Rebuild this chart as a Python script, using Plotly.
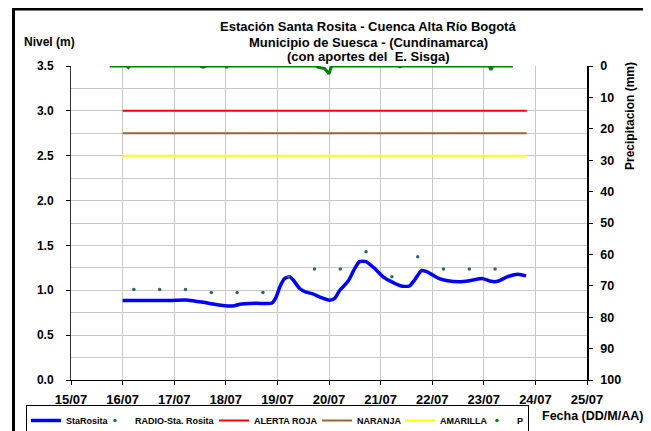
import plotly.graph_objects as go

# ---- data ----
level_time = ["2011-07-16 00:00", "2011-07-16 19:00", "2011-07-17 06:30", "2011-07-17 13:30",
              "2011-07-17 18:00", "2011-07-17 23:30", "2011-07-18 04:00", "2011-07-18 06:30",
              "2011-07-18 14:10", "2011-07-18 21:30", "2011-07-18 23:30", "2011-07-19 01:10",
              "2011-07-19 03:20", "2011-07-19 05:45", "2011-07-19 07:10", "2011-07-19 10:20",
              "2011-07-19 12:45", "2011-07-19 16:30", "2011-07-19 20:25", "2011-07-20 00:15",
              "2011-07-20 02:40", "2011-07-20 05:00", "2011-07-20 08:50", "2011-07-20 12:00",
              "2011-07-20 14:10", "2011-07-20 17:15", "2011-07-20 21:10", "2011-07-21 01:10",
              "2011-07-21 05:00", "2011-07-21 09:35", "2011-07-21 13:25", "2011-07-21 15:50",
              "2011-07-21 19:00", "2011-07-21 21:10", "2011-07-22 00:15", "2011-07-22 03:20",
              "2011-07-22 07:10", "2011-07-22 12:45", "2011-07-22 17:15", "2011-07-22 23:30",
              "2011-07-23 03:20", "2011-07-23 06:30", "2011-07-23 10:50", "2011-07-23 15:50",
              "2011-07-23 19:40"]
level_m = [0.885, 0.885, 0.89, 0.866, 0.847, 0.828, 0.828, 0.845, 0.855, 0.858, 0.93, 1.04,
           1.13, 1.15, 1.12, 1.02, 0.985, 0.96, 0.918, 0.89, 0.91, 1.00, 1.10, 1.245, 1.32,
           1.32, 1.245, 1.15, 1.096, 1.048, 1.048, 1.115, 1.22, 1.21, 1.17, 1.13, 1.107,
           1.096, 1.107, 1.13, 1.10, 1.10, 1.15, 1.18, 1.16]

radio_time = ["2011-07-16 05:15", "2011-07-16 17:15", "2011-07-17 05:15", "2011-07-17 17:15",
              "2011-07-18 05:15", "2011-07-18 17:15", "2011-07-19 05:15", "2011-07-19 17:15",
              "2011-07-20 05:15", "2011-07-20 17:15", "2011-07-21 05:15", "2011-07-21 17:15",
              "2011-07-22 05:15", "2011-07-22 17:15", "2011-07-23 05:15"]
radio_m = [1.01, 1.01, 1.01, 0.974, 0.974, 0.974, 1.152, 1.237, 1.237, 1.43, 1.152, 1.375,
           1.237, 1.237, 1.237]

alert_time = ["2011-07-16 00:00", "2011-07-23 20:00"]
alerta_roja = [3.0, 3.0]
naranja = [2.75, 2.75]
amarilla = [2.5, 2.5]

precip_time = ["2011-07-15 18:00", "2011-07-16 02:00", "2011-07-16 02:40", "2011-07-16 03:20",
               "2011-07-17 12:00", "2011-07-17 13:30", "2011-07-17 15:00", "2011-07-18 00:00",
               "2011-07-18 00:20", "2011-07-18 00:50", "2011-07-19 18:00", "2011-07-19 19:00",
               "2011-07-19 22:00", "2011-07-20 00:00", "2011-07-20 01:00", "2011-07-20 02:00",
               "2011-07-21 08:00", "2011-07-21 09:00", "2011-07-21 10:00", "2011-07-23 02:30",
               "2011-07-23 03:20", "2011-07-23 04:10", "2011-07-23 13:30"]
precip_mm = [0, 0, 0.5, 0, 0, 0.4, 0, 0, 0.5, 0, 0, 0.4, 0.8, 2.5, 0.3, 0, 0, 0.3, 0, 0,
             1.2, 0, 0]

x_range = ["2011-07-15", "2011-07-25"]

title_lines = ["Estación Santa Rosita - Cuenca Alta Río Bogotá",
               "Municipio de Suesca - (Cundinamarca)",
               "(con aportes del  E. Sisga)"]

FONT = "Liberation Sans, Arial, sans-serif"

# the page body adds an 8px offset; the figure is sized so that it ends at the window edge
OFF = 8
WIN_W, WIN_H = 651, 431
PLOT_L, PLOT_R, PLOT_T, PLOT_B = 71, 587, 66, 380   # plot area in window pixels

fig = go.Figure()
fig.add_trace(go.Scatter(x=level_time, y=level_m, name="StaRosita", mode="lines",
                         line=dict(color="#0000ff", width=3.5, shape="spline", smoothing=0.6),
                         legendwidth=24))
fig.add_trace(go.Scatter(x=radio_time, y=radio_m, name="RADIO-Sta. Rosita", mode="markers",
                         marker=dict(color="#336666", size=3.5), legendwidth=74))
fig.add_trace(go.Scatter(x=alert_time, y=alerta_roja, name="ALERTA ROJA", mode="lines",
                         line=dict(color="#ff0000", width=2), legendwidth=58))
fig.add_trace(go.Scatter(x=alert_time, y=naranja, name="NARANJA", mode="lines",
                         line=dict(color="#996633", width=2), legendwidth=38))
fig.add_trace(go.Scatter(x=alert_time, y=amarilla, name="AMARILLA", mode="lines",
                         line=dict(color="#ffff00", width=2), legendwidth=32))
fig.add_trace(go.Scatter(x=precip_time, y=precip_mm, name="P", mode="lines", yaxis="y2",
                         line=dict(color="#008000", width=3), showlegend=False,
                         legendgroup="p"))
fig.add_trace(go.Scatter(x=[None], y=[None], name="P", mode="markers", yaxis="y2",
                         marker=dict(color="#008000", size=3.5), legendgroup="p",
                         legendwidth=6))

PW = PLOT_R - PLOT_L
PH = PLOT_B - PLOT_T

def px_x(px):
    return (px - PLOT_L) / PW

def px_y(py):
    return (PLOT_B - py) / PH

fig.update_layout(
    width=WIN_W - OFF, height=WIN_H - OFF,
    margin=dict(l=PLOT_L - OFF, r=WIN_W - PLOT_R, t=PLOT_T - OFF, b=WIN_H - PLOT_B,
                autoexpand=False),
    paper_bgcolor="white", plot_bgcolor="white",
    font=dict(family=FONT, size=12, color="black"),
    xaxis=dict(type="date", range=x_range, dtick=86400000, tick0="2011-07-15",
               tickformat="%d/%m", showgrid=True, gridcolor="#c8c8c8", gridwidth=1,
               showline=True, linecolor="black", linewidth=1,
               ticks="outside", ticklen=4, tickcolor="black", ticklabelstandoff=3,
               tickfont=dict(family=FONT, size=13, weight="bold"), zeroline=False),
    yaxis=dict(range=[0, 3.5], dtick=0.5, tick0=0, tickformat=".1f",
               showgrid=True, gridcolor="#c8c8c8", gridwidth=1,
               minor=dict(dtick=0.25, showgrid=True, gridcolor="#c8c8c8", gridwidth=1, ticks=""),
               showline=True, linecolor="#333333", linewidth=1,
               ticks="outside", ticklen=4, tickcolor="black", ticklabelstandoff=10,
               tickfont=dict(family=FONT, size=12, weight="bold"), zeroline=False),
    yaxis2=dict(range=[100, 0], dtick=10, tick0=0, overlaying="y", side="right",
                showgrid=False, showline=True, linecolor="black", linewidth=1.5,
                ticks="outside", ticklen=4, tickcolor="black", ticklabelstandoff=5,
                tickfont=dict(family=FONT, size=12.5, weight="bold"), zeroline=False),
    legend=dict(orientation="h", x=px_x(26), xanchor="left", y=px_y(405), yanchor="top",
                font=dict(family=FONT, size=9, weight="bold"),
                bordercolor="black", borderwidth=1, bgcolor="white",
                itemwidth=30, tracegroupgap=0),
    showlegend=True,
)

for i, line in enumerate(title_lines):
    fig.add_annotation(text="<b>" + line + "</b>", xref="paper", yref="paper",
                       x=px_x(368), y=px_y(27 + 15 * i), xanchor="center", yanchor="middle",
                       showarrow=False, font=dict(family=FONT, size=13))

fig.add_annotation(text="<b>Nivel (m)</b>", xref="paper", yref="paper",
                   x=px_x(22), y=px_y(42), xanchor="left", yanchor="middle",
                   showarrow=False, font=dict(family=FONT, size=12))
fig.add_annotation(text="<b>Precipitacion (mm)</b>", xref="paper", yref="paper",
                   x=px_x(630), y=px_y(116), xanchor="center", yanchor="middle",
                   textangle=-90, showarrow=False, font=dict(family=FONT, size=12))
fig.add_annotation(text="<b>Fecha (DD/M/AA)</b>", xref="paper", yref="paper",
                   x=px_x(645), y=px_y(416), xanchor="right", yanchor="middle",
                   showarrow=False, font=dict(family=FONT, size=12.5))

# outer frame (top, left, right)
frame = dict(color="black", width=3)
fig.add_shape(type="line", xref="paper", yref="paper", x0=px_x(12), x1=px_x(651),
              y0=px_y(9), y1=px_y(9), line=frame)
fig.add_shape(type="line", xref="paper", yref="paper", x0=px_x(13.5), x1=px_x(13.5),
              y0=px_y(8), y1=px_y(440), line=frame)
fig.add_shape(type="line", xref="paper", yref="paper", x0=px_x(649.5), x1=px_x(649.5),
              y0=px_y(8), y1=px_y(395), line=frame)

fig.write_html("out.html")
